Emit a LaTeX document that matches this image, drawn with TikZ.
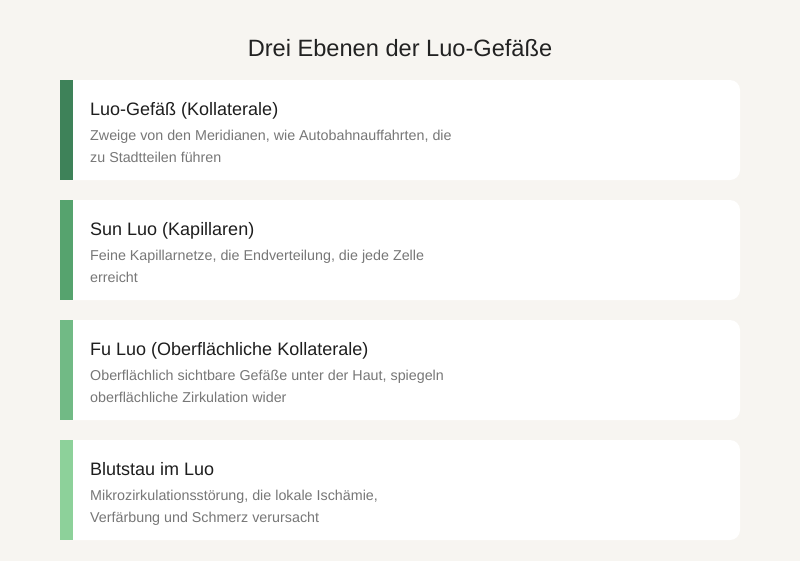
\documentclass[tikz,border=0pt]{standalone}
\usepackage{fontspec}
\setmainfont{Liberation Sans}
\definecolor{bg}{HTML}{F7F5F1}
\definecolor{titlec}{HTML}{222222}
\definecolor{headc}{HTML}{1E1E1E}
\definecolor{descc}{HTML}{777777}
\definecolor{barA}{HTML}{3E8259}
\definecolor{barB}{HTML}{56A36E}
\definecolor{barC}{HTML}{71BA85}
\definecolor{barD}{HTML}{8DD19A}
\tikzset{
  card/.style={rectangle, fill=white, rounded corners=10pt, minimum width=680pt, minimum height=100pt, inner sep=0pt},
  bar/.style={rectangle, minimum width=13pt, minimum height=100pt, inner sep=0pt},
  heading/.style={anchor=base west, inner sep=0pt, text=headc, font=\fontsize{18}{21}\selectfont},
  desc/.style={anchor=base west, inner sep=0pt, text=descc, font=\fontsize{14.3}{17}\selectfont},
  titlestyle/.style={anchor=base, inner sep=0pt, text=titlec, font=\fontsize{23.6}{28}\selectfont}
}
\begin{document}
\begin{tikzpicture}[x=1pt,y=-1pt]
\useasboundingbox (0,0) rectangle (800,560);
\fill[bg] (-5,-5) rectangle (805,565);
\node[titlestyle] (title) at (400,56) {Drei Ebenen der Luo-Gefäße};
% card 1
\node[card] (c1) at (400,130) {};
\node[bar, fill=barA, anchor=north west] (b1) at (60,80) {};
\node[heading] (h1) at (90,115) {Luo-Gefäß (Kollaterale)};
\node[desc] (d1a) at (90,140) {Zweige von den Meridianen, wie Autobahnauffahrten, die};
\node[desc] (d1b) at (90,162) {zu Stadtteilen führen};
% card 2
\node[card] (c2) at (400,250) {};
\node[bar, fill=barB, anchor=north west] (b2) at (60,200) {};
\node[heading] (h2) at (90,235) {Sun Luo (Kapillaren)};
\node[desc] (d2a) at (90,260) {Feine Kapillarnetze, die Endverteilung, die jede Zelle};
\node[desc] (d2b) at (90,282) {erreicht};
% card 3
\node[card] (c3) at (400,370) {};
\node[bar, fill=barC, anchor=north west] (b3) at (60,320) {};
\node[heading] (h3) at (90,355) {Fu Luo (Oberflächliche Kollaterale)};
\node[desc] (d3a) at (90,380) {Oberflächlich sichtbare Gefäße unter der Haut, spiegeln};
\node[desc] (d3b) at (90,402) {oberflächliche Zirkulation wider};
% card 4
\node[card] (c4) at (400,490) {};
\node[bar, fill=barD, anchor=north west] (b4) at (60,440) {};
\node[heading] (h4) at (90,475) {Blutstau im Luo};
\node[desc] (d4a) at (90,500) {Mikrozirkulationsstörung, die lokale Ischämie,};
\node[desc] (d4b) at (90,522) {Verfärbung und Schmerz verursacht};
\end{tikzpicture}
\end{document}
